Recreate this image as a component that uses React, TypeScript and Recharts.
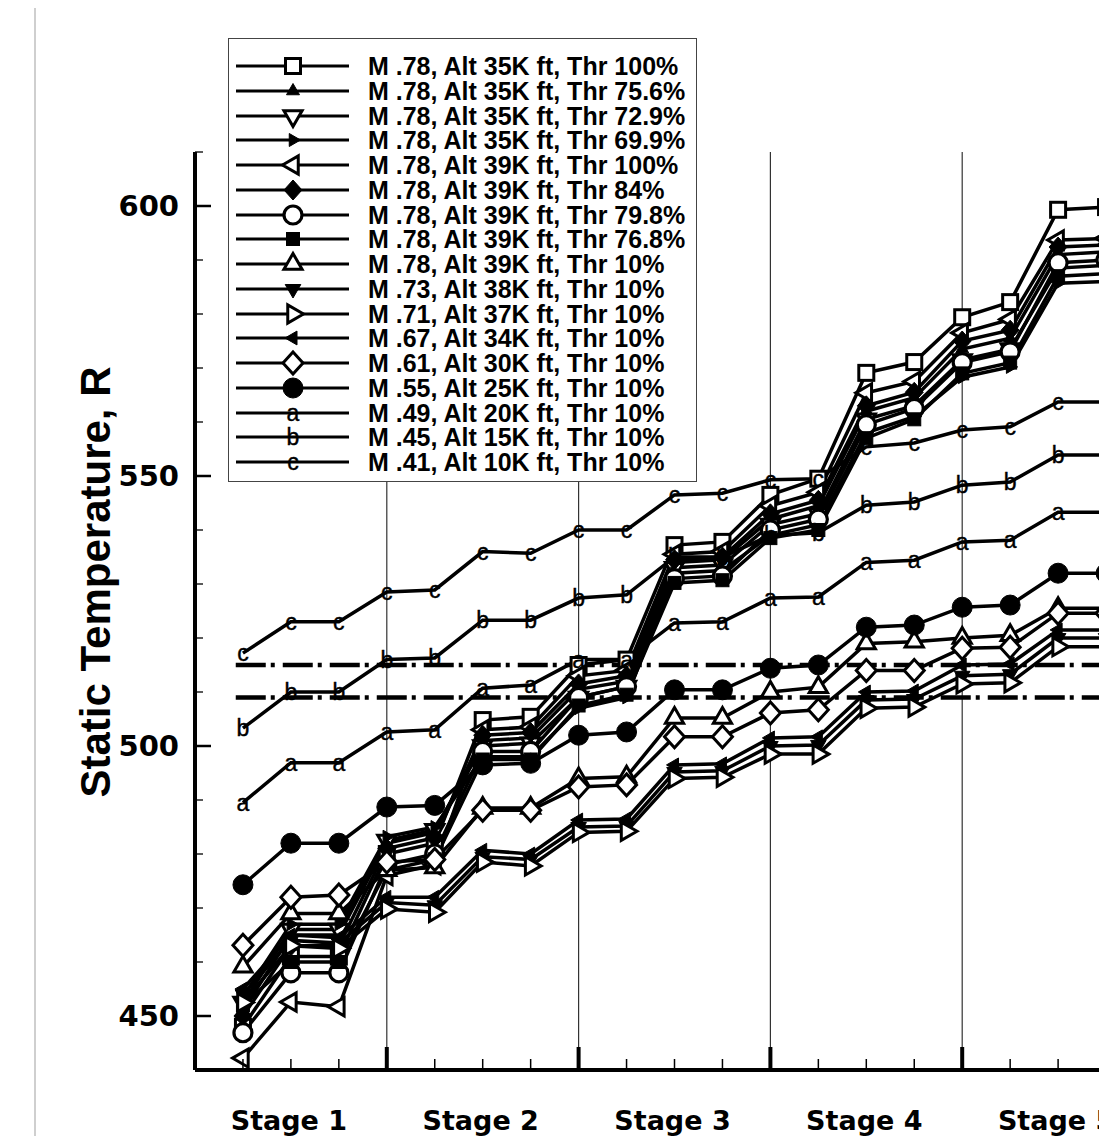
import React from "react";
import { LineChart, Line, XAxis, YAxis, ReferenceLine, Legend } from "recharts";

// measuring stations along the compressor (5 stages, 4 stations each)
const stations = [1, 2, 3, 4, 5, 6, 7, 8, 9, 10, 11, 12, 13, 14, 15, 16, 17, 18, 19];
const xTicks = [0, 1, 2, 3, 4, 5, 6, 7, 8, 9, 10, 11, 12, 13, 14, 15, 16, 17, 18, 19, 20];
const stageEdges = [4, 8, 12, 16, 20];
const stageNames = ["Stage 1", "Stage 2", "Stage 3", "Stage 4", "Stage 5"];
const yTicks = [440, 450, 460, 470, 480, 490, 500, 510, 520, 530, 540, 550, 560, 570, 580, 590, 600, 610];
const yLabelled = [450, 500, 550, 600];
const limitHigh = 515;
const limitLow = 509;

const m78_35k_100 = [448, 461, 461, 480, 482, 504.8, 505.4, 515, 516, 537.2, 537.8, 546.5, 549.5, 569.1, 571.1, 579.4, 582.2, 599.3, 599.8];
const m78_35k_756 = [451, 465, 465, 482, 484, 501, 501.5, 510.5, 512, 534, 534.5, 542, 544.5, 562, 564.5, 573.5, 575.5, 591, 591.5];
const m78_35k_729 = [452.5, 466, 466, 482.5, 484.5, 500, 500.5, 509, 511, 533, 533.5, 541, 543, 560.5, 563, 571.5, 573.5, 588.5, 589];
const m78_35k_699 = [453.5, 467, 467, 483.2, 485, 498, 498, 507, 509, 532, 532.5, 539, 541, 558, 561, 568.3, 570.2, 585.7, 586];
const m78_39k_100 = [442.2, 452.6, 451.7, 476, 478, 503, 503.5, 513, 514, 535.5, 536, 544.5, 547, 565.4, 567.5, 576.5, 579, 593.7, 594];
const m78_39k_84 = [450, 463, 463, 481, 483, 502, 502.5, 511.5, 513, 534.5, 535, 543, 545.5, 563, 565.5, 575, 577, 592.4, 592.8];
const m78_39k_798 = [446.9, 458, 458, 478, 480, 499, 499, 509, 511, 531, 531.5, 540, 542, 559.5, 562.5, 571, 573, 589.5, 590];
const m78_39k_768 = [452, 460, 460, 477, 479, 497.5, 497.5, 507.5, 509.5, 530.2, 530.7, 538.5, 540, 557, 560.5, 569, 571, 587, 587.5];
const m78_39k_10 = [459.1, 469, 469, 477, 477.5, 488.5, 488.5, 494, 494.3, 505.2, 505.2, 510, 510.9, 519, 519.3, 520, 520.5, 525.5, 525.5];
const m73_38k_10 = [454, 464, 463.5, 471, 470.5, 479.5, 479, 485, 485.2, 495.2, 495.4, 500, 500.2, 508.5, 508.7, 513, 513.3, 520, 520];
const m71_37k_10 = [452.5, 463, 462.5, 469.8, 469.2, 478.5, 477.8, 484, 484.2, 494, 494.2, 498.5, 498.5, 507, 507.2, 511.5, 511.7, 518.4, 518.4];
const m67_34k_10 = [455, 465, 464.5, 472, 472, 480.7, 480, 486.3, 486.5, 496.5, 496.7, 501.5, 501.7, 510, 510.2, 515, 515.2, 521.5, 521.5];
const m61_30k_10 = [463.1, 472, 472.4, 478.5, 479, 488.1, 488.1, 492.4, 492.8, 501.7, 501.7, 506.1, 506.7, 514, 514, 518.1, 518.3, 524.6, 524.6];
const m55_25k_10 = [474.3, 482, 482, 488.7, 489, 496.5, 496.8, 502, 502.6, 510.4, 510.4, 514.4, 515, 522, 522.4, 525.7, 526.1, 532, 532];
const m49_20k_10 = [489.5, 496.9, 496.9, 502.6, 503, 510.7, 511.3, 516, 516, 522.8, 523, 527.4, 527.6, 534, 534.4, 537.8, 538.1, 543.3, 543.3];
const m45_15k_10 = [503.3, 510, 510, 516, 516.3, 523.3, 523.3, 527.4, 528, 535, 535, 539, 539.5, 544.6, 545.2, 548.3, 548.9, 553.9, 553.9];
const m41_10k_10 = [517.2, 523, 523, 528.5, 528.9, 536, 535.7, 540, 540, 546.5, 546.8, 549.3, 549.5, 555.4, 556.1, 558.5, 559.1, 563.7, 563.7];

const series = [
  { key: "s1", name: "M .78, Alt 35K ft, Thr 100%", values: m78_35k_100, marker: "square" },
  { key: "s2", name: "M .78, Alt 35K ft, Thr 75.6%", values: m78_35k_756, marker: "triUpSmall" },
  { key: "s3", name: "M .78, Alt 35K ft, Thr 72.9%", values: m78_35k_729, marker: "triDownOpen" },
  { key: "s4", name: "M .78, Alt 35K ft, Thr 69.9%", values: m78_35k_699, marker: "triRightSmall" },
  { key: "s5", name: "M .78, Alt 39K ft, Thr 100%", values: m78_39k_100, marker: "triLeftOpen" },
  { key: "s6", name: "M .78, Alt 39K ft, Thr 84%", values: m78_39k_84, marker: "diamondFilled" },
  { key: "s7", name: "M .78, Alt 39K ft, Thr 79.8%", values: m78_39k_798, marker: "circleOpen" },
  { key: "s8", name: "M .78, Alt 39K ft, Thr 76.8%", values: m78_39k_768, marker: "squareFilled" },
  { key: "s9", name: "M .78, Alt 39K ft, Thr 10%", values: m78_39k_10, marker: "triUpOpen" },
  { key: "s10", name: "M .73, Alt 38K ft, Thr 10%", values: m73_38k_10, marker: "triDownFilled" },
  { key: "s11", name: "M .71, Alt 37K ft, Thr 10%", values: m71_37k_10, marker: "triRightOpen" },
  { key: "s12", name: "M .67, Alt 34K ft, Thr 10%", values: m67_34k_10, marker: "triLeftFilled" },
  { key: "s13", name: "M .61, Alt 30K ft, Thr 10%", values: m61_30k_10, marker: "diamondOpen" },
  { key: "s14", name: "M .55, Alt 25K ft, Thr 10%", values: m55_25k_10, marker: "circleFilled" },
  { key: "s15", name: "M .49, Alt 20K ft, Thr 10%", values: m49_20k_10, marker: "a" },
  { key: "s16", name: "M .45, Alt 15K ft, Thr 10%", values: m45_15k_10, marker: "b" },
  { key: "s17", name: "M .41, Alt 10K ft, Thr 10%", values: m41_10k_10, marker: "c" },
];

const data = stations.map((x, i) => {
  const row: Record<string, number> = { x };
  series.forEach((s) => {
    row[s.key] = s.values[i];
  });
  return row;
});

// layout (svg coords)
const PLOT_LEFT = 187;
const PLOT_TOP = 144;
const PLOT_BOTTOM = 1062;
const CHART_W = 1146;
const CHART_H = 1128;

const tri = (cx: number, cy: number, r: number, rot: number) => {
  const pts = [0, 120, 240].map((a) => {
    const t = ((a + rot - 90) * Math.PI) / 180;
    return `${cx + r * Math.cos(t)},${cy + r * Math.sin(t)}`;
  });
  return pts.join(" ");
};

function Marker({ shape, cx, cy }: { shape: string; cx: number; cy: number }) {
  const open = { fill: "#fff", stroke: "#000", strokeWidth: 3 };
  const solid = { fill: "#000", stroke: "#000", strokeWidth: 1 };
  switch (shape) {
    case "square":
      return <rect x={cx - 7.5} y={cy - 7.5} width={15} height={15} {...open} />;
    case "squareFilled":
      return <rect x={cx - 6.5} y={cy - 6.5} width={13} height={13} {...solid} />;
    case "triUpSmall":
      return <polygon points={tri(cx, cy, 7.5, 0)} {...solid} />;
    case "triUpOpen":
      return <polygon points={tri(cx, cy, 10.5, 0)} {...open} />;
    case "triDownOpen":
      return <polygon points={tri(cx, cy, 10.5, 180)} {...open} />;
    case "triDownFilled":
      return <polygon points={tri(cx, cy, 9, 180)} {...solid} />;
    case "triRightSmall":
      return <polygon points={tri(cx, cy, 7.5, 90)} {...solid} />;
    case "triRightOpen":
      return <polygon points={tri(cx, cy, 10.5, 90)} {...open} />;
    case "triLeftOpen":
      return <polygon points={tri(cx, cy, 10.5, 270)} {...open} />;
    case "triLeftFilled":
      return <polygon points={tri(cx, cy, 8, 270)} {...solid} />;
    case "diamondFilled":
      return <polygon points={`${cx},${cy - 10} ${cx + 9},${cy} ${cx},${cy + 10} ${cx - 9},${cy}`} {...solid} />;
    case "diamondOpen":
      return <polygon points={`${cx},${cy - 11} ${cx + 10},${cy} ${cx},${cy + 11} ${cx - 10},${cy}`} {...open} />;
    case "circleOpen":
      return <circle cx={cx} cy={cy} r={9} {...open} strokeWidth={3.2} />;
    case "circleFilled":
      return <circle cx={cx} cy={cy} r={10} {...solid} />;
    default:
      return (
        <text x={cx} y={cy} textAnchor="middle" dominantBaseline="central" fontFamily="Liberation Sans, Arial" fontSize={23} fill="#000" stroke="#000" strokeWidth={0.4}>
          {shape}
        </text>
      );
  }
}

const XTick = ({ x, payload }: any) => {
  const v = payload.value as number;
  const major = v % 4 === 0;
  const stage = v % 4 === 2 ? stageNames[(v - 2) / 4] : null;
  return (
    <g>
      {v > 0 && (
        <line x1={x} x2={x} y1={PLOT_BOTTOM} y2={PLOT_BOTTOM - (major ? 23 : 11)} stroke="#000" strokeWidth={major ? 4 : 1.5} />
      )}
      {stage && (
        <text x={x - 2} y={PLOT_BOTTOM + 60} textAnchor="middle" fontFamily="DejaVu Sans" fontWeight="bold" fontSize={27} fill="#000">
          {stage}
        </text>
      )}
    </g>
  );
};

const YTick = ({ y, payload }: any) => {
  const v = payload.value as number;
  const major = yLabelled.includes(v);
  return (
    <g>
      <line x1={PLOT_LEFT} x2={PLOT_LEFT + (major ? 16 : 8)} y1={y} y2={y} stroke="#000" strokeWidth={major ? 2.5 : 1.3} />
      {major && (
        <text x={171} y={y} textAnchor="end" dominantBaseline="central" fontFamily="DejaVu Sans" fontWeight="bold" fontSize={29} fill="#000">
          {v}
        </text>
      )}
    </g>
  );
};

const YLabel = () => (
  <text
    x={87}
    y={574}
    transform="rotate(-90 87 574)"
    textAnchor="middle"
    dominantBaseline="central"
    fontFamily="Liberation Sans, Arial"
    fontWeight="bold"
    fontSize={42}
    fill="#000"
  >
    Static Temperature, R
  </text>
);

const LegendBox = () => (
  <div
    style={{
      width: 469,
      height: 444,
      border: "1.5px solid #444",
      background: "#fff",
      boxSizing: "border-box",
      position: "relative",
    }}
  >
    {series.map((s, i) => (
      <div key={s.key} style={{ position: "absolute", left: 0, top: 27 + i * 24.75 - 12, height: 24, width: 460 }}>
        <svg width={130} height={24} style={{ position: "absolute", left: 0, top: 0, overflow: "visible" }}>
          <line x1={7} x2={120} y1={12} y2={12} stroke="#000" strokeWidth={3} />
          <Marker shape={s.marker} cx={64} cy={12} />
        </svg>
        <span
          style={{
            position: "absolute",
            left: 139,
            top: 0,
            whiteSpace: "nowrap",
            fontFamily: "Liberation Sans, Arial",
            fontWeight: "bold",
            fontSize: 25,
            lineHeight: "24px",
            color: "#000",
          }}
        >
          {s.name}
        </span>
      </div>
    ))}
  </div>
);

export default function App() {
  return (
    <div style={{ position: "relative", width: 1099, height: CHART_H, overflow: "hidden", background: "#fff" }}>
      <div style={{ position: "absolute", left: 26, top: -8, width: 2, height: CHART_H + 16, background: "#cfcfcf" }} />
      <LineChart width={CHART_W} height={CHART_H} data={data} margin={{ top: PLOT_TOP, right: 0, bottom: 6, left: 0 }}>
        <XAxis
          dataKey="x"
          type="number"
          domain={[0, 20]}
          ticks={xTicks}
          interval={0}
          tickLine={false}
          tick={<XTick />}
          axisLine={{ stroke: "#000", strokeWidth: 4 }}
          height={60}
        />
        <YAxis
          type="number"
          domain={[440, 610]}
          ticks={yTicks}
          interval={0}
          tickLine={false}
          tick={<YTick />}
          axisLine={{ stroke: "#000", strokeWidth: 4 }}
          width={PLOT_LEFT}
          label={<YLabel />}
          allowDataOverflow
        />
        {stageEdges.map((e) => (
          <ReferenceLine key={e} x={e} stroke="#333" strokeWidth={1.2} />
        ))}
        <ReferenceLine
          segment={[{ x: 0.85, y: limitHigh }, { x: 20, y: limitHigh }]}
          stroke="#000"
          strokeWidth={4.5}
          strokeDasharray="30 5 4 8"
        />
        <ReferenceLine
          segment={[{ x: 0.85, y: limitLow }, { x: 20, y: limitLow }]}
          stroke="#000"
          strokeWidth={4.5}
          strokeDasharray="30 5 4 8"
        />
        {series.map((s) => (
          <Line
            key={s.key}
            dataKey={s.key}
            name={s.name}
            stroke="#000"
            strokeWidth={3.5}
            isAnimationActive={false}
            dot={(p: any) => <Marker key={`${s.key}-${p.index}`} shape={s.marker} cx={p.cx} cy={p.cy} />}
            activeDot={false}
          />
        ))}
        <Legend
          layout="horizontal"
          verticalAlign="middle"
          align="center"
          content={() => <LegendBox />}
          wrapperStyle={{ left: 220, top: 30, width: 469, height: 444 }}
        />
      </LineChart>
    </div>
  );
}
